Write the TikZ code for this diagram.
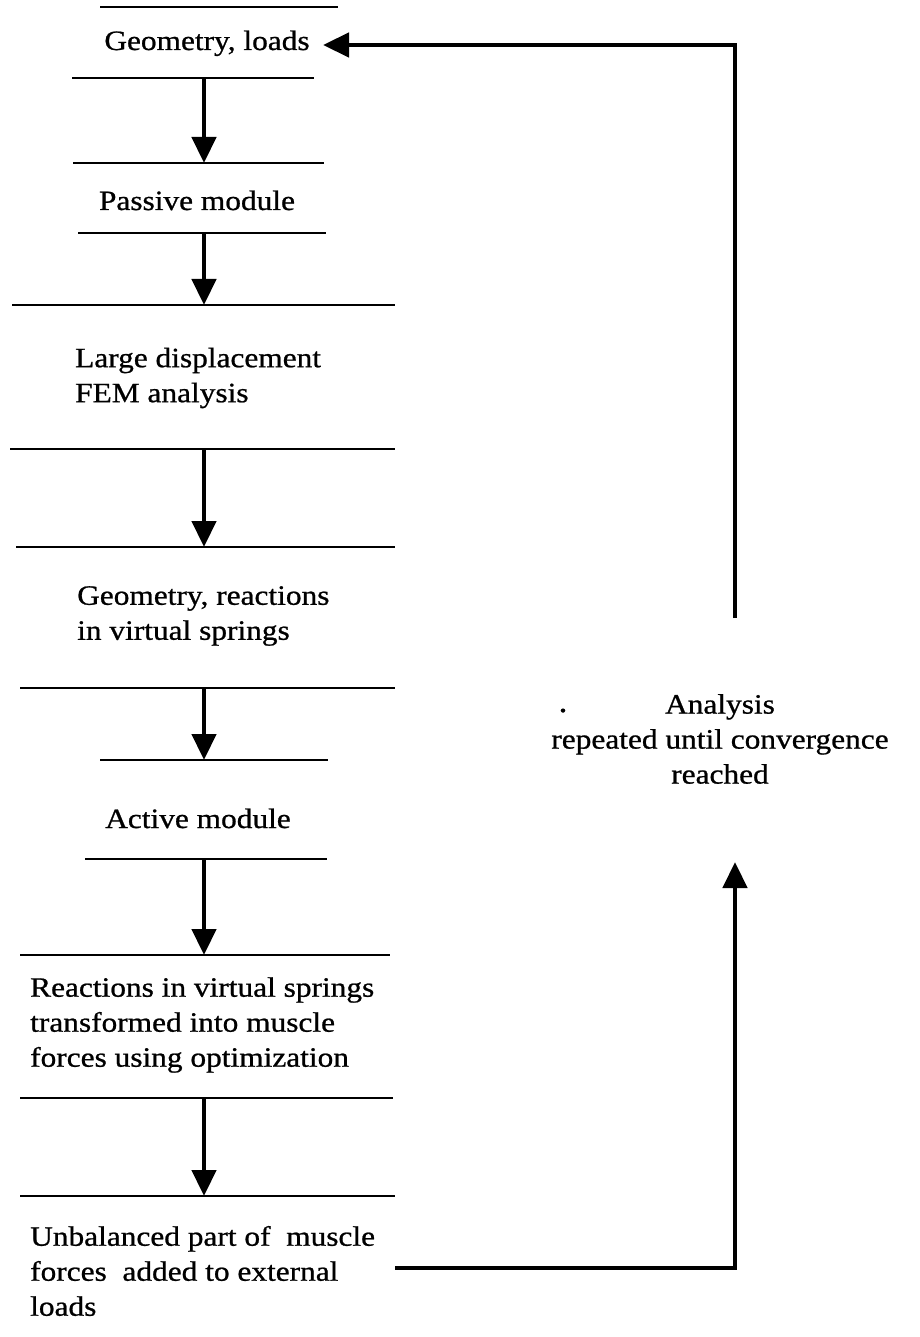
\documentclass[tikz,border=0pt]{standalone}
\usepackage{fontspec}
\setmainfont[FakeStretch=1.12, FakeBold=0.8]{Liberation Serif}
\usetikzlibrary{arrows.meta}
\begin{document}
\begin{tikzpicture}[
        x=1pt, y=-1pt,
        every node/.style={inner sep=0pt, font=\fontsize{28}{35}\selectfont},
        steptext/.style={anchor=west, align=left},
        rule/.style={draw, line width=1.4pt},
        flow/.style={draw, line width=4.5pt, -{Triangle[length=26pt, width=24pt]}},
    ]
    \useasboundingbox (0,0) rectangle (919,1337);
    % text of the steps
    \node[anchor=base](geo) at (207,50){Geometry, loads};
    \node[anchor=base](passive) at (197,210){Passive module};
    \node[steptext](fem) at (75,378){Large displacement\\FEM analysis};
    \node[steptext](georeac) at (77,616){Geometry, reactions\\in virtual springs};
    \node[anchor=base](active) at (198,828){Active module};
    \node[steptext](reac) at (30,1025){Reactions in virtual springs\\transformed into muscle\\forces using optimization};
    \node[steptext](unbal) at (30,1271){Unbalanced part of\ \ muscle\\forces\ \ added to external\\loads};
    \node[align=center](repeat) at (720,739){Analysis\\repeated until convergence\\reached};
    \node[anchor=base, font=\fontsize{32}{35}\selectfont](dot) at (563,712){.};
    % rules above and below the steps
    \draw[rule] (100,7) -- (338,7);
    \draw[rule] (72,78) -- (314,78);
    \draw[rule] (73,163) -- (324,163);
    \draw[rule] (78,233) -- (326,233);
    \draw[rule] (12,305) -- (395,305);
    \draw[rule] (10,449) -- (395,449);
    \draw[rule] (16,547) -- (395,547);
    \draw[rule] (20,688) -- (395,688);
    \draw[rule] (100,760) -- (328,760);
    \draw[rule] (85,859) -- (327,859);
    \draw[rule] (20,955) -- (390,955);
    \draw[rule] (20,1098) -- (393,1098);
    \draw[rule] (20,1196) -- (395,1196);
    % arrow ends on the rules
    \coordinate (r2) at (204,78);
    \coordinate (r3) at (204,163);
    \coordinate (r4) at (204,233);
    \coordinate (r5) at (204,305);
    \coordinate (r6) at (204,449);
    \coordinate (r7) at (204,547);
    \coordinate (r8) at (204,688);
    \coordinate (r9) at (204,760);
    \coordinate (r10) at (204,859);
    \coordinate (r11) at (204,955);
    \coordinate (r12) at (204,1098);
    \coordinate (r13) at (204,1196);
    \draw[flow] (r2) -- (r3);
    \draw[flow] (r4) -- (r5);
    \draw[flow] (r6) -- (r7);
    \draw[flow] (r8) -- (r9);
    \draw[flow] (r10) -- (r11);
    \draw[flow] (r12) -- (r13);
    % feedback loop
    \coordinate (fbstart) at (395,1268);
    \coordinate (fbup) at (735,862);
    \coordinate (fbtop) at (735,618);
    \coordinate (geotip) at (323,45);
    \draw[flow] (fbstart) -| (fbup);
    \draw[flow] (fbtop) |- (geotip);
\end{tikzpicture}
\end{document}
